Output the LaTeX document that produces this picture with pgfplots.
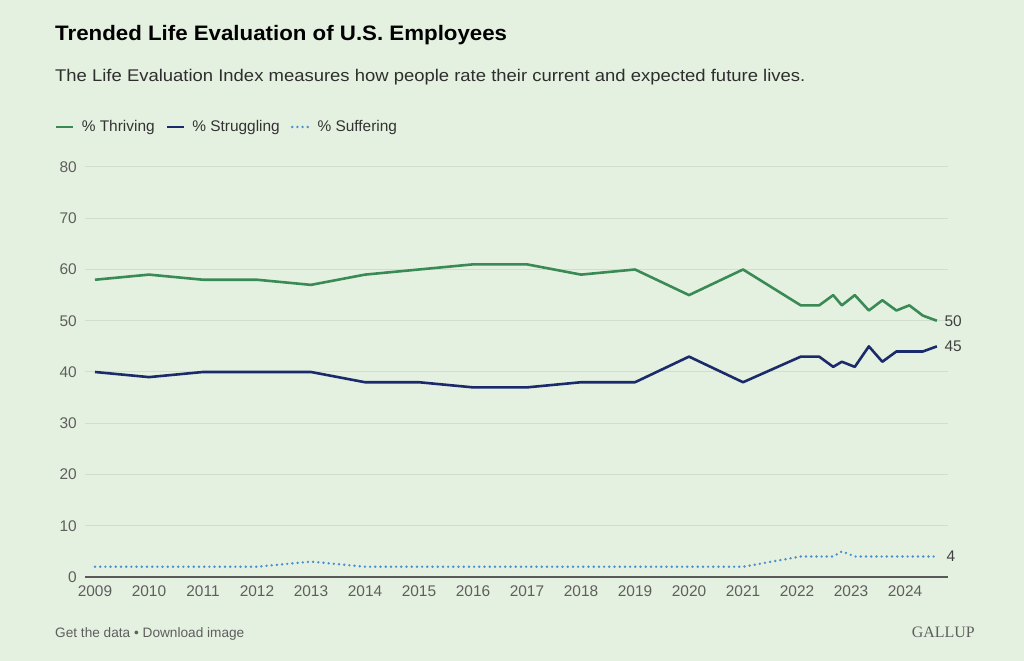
\documentclass[border=0pt]{standalone}
\usepackage{fontspec}
\setmainfont{Liberation Sans}
\newfontfamily\titlefont[FakeStretch=1.065]{Liberation Sans}
\newfontfamily\subfont[FakeStretch=1.09]{Liberation Sans}
\newfontfamily\gallupfont{Liberation Serif}
\usepackage{pgfplots}
\usepackage{pgfplotstable}
\pgfplotsset{compat=1.18}
\definecolor{bg}{HTML}{E5F1E0}
\definecolor{thr}{HTML}{3A8A55}
\definecolor{str}{HTML}{1B2A6B}
\definecolor{suf}{HTML}{4A8FD0}
\definecolor{gridc}{HTML}{D3DDCF}
\definecolor{txt}{HTML}{5E5E5E}

\pgfplotstableread{
x y
2009 58
2010 59
2011 58
2012 58
2013 57
2014 59
2015 60
2016 61
2017 61
2018 59
2019 60
2020 55
2021 60
2022.07 53
2022.41 53
2022.67 55
2022.83 53
2023.07 55
2023.33 52
2023.58 54
2023.84 52
2024.08 53
2024.33 51
2024.59 50
}\thriving

\pgfplotstableread{
x y
2009 40
2010 39
2011 40
2012 40
2013 40
2014 38
2015 38
2016 37
2017 37
2018 38
2019 38
2020 43
2021 38
2022.07 43
2022.41 43
2022.67 41
2022.83 42
2023.07 41
2023.33 45
2023.58 42
2023.84 44
2024.08 44
2024.33 44
2024.59 45
}\struggling

\pgfplotstableread{
x y
2009 2
2010 2
2011 2
2012 2
2013 3
2014 2
2015 2
2016 2
2017 2
2018 2
2019 2
2020 2
2021 2
2022.07 4
2022.41 4
2022.67 4
2022.83 5
2023.07 4
2023.33 4
2023.58 4
2023.84 4
2024.08 4
2024.33 4
2024.59 4
}\suffering

\begin{document}
\begin{tikzpicture}[x=1bp,y=1bp]
\fill[bg] (0,0) rectangle (1024,661);
\node[anchor=base west, inner sep=0, text=black, font=\titlefont\bfseries\fontsize{21}{24}\selectfont] at (55,620) {Trended Life Evaluation of U.S. Employees};
\node[anchor=base west, inner sep=0, text=black!82, font=\subfont\fontsize{17}{20}\selectfont] at (55,579) {The Life Evaluation Index measures how people rate their current and expected future lives.};
\node[anchor=base west, inner sep=0, text=txt, font=\fontsize{13.7}{16}\selectfont] at (55,23) {Get the data \textbullet\ Download image};
\node[anchor=base east, inner sep=0, text=txt, font=\gallupfont\fontsize{16}{18}\selectfont] at (975,23) {GALLUP};
\begin{axis}[
  at={(85bp,84bp)}, anchor=south west,
  scale only axis, width=863bp, height=410bp,
  xmin=2008.815, xmax=2024.796, ymin=0, ymax=80,
  axis x line=bottom, axis y line=left,
  axis line style={-},
  x axis line style={draw=black!65, line width=1.3bp},
  y axis line style={draw=none},
  xtick={2009,2010,...,2024},
  ytick={0,10,...,80},
  major tick length=0pt,
  ymajorgrids, grid style={draw=gridc, line width=1bp},
  /pgf/number format/assume math mode=true,
  xticklabel style={/pgf/number format/1000 sep={}, anchor=north, inner sep=0pt, yshift=-9bp},
  yticklabel style={anchor=east, inner sep=0pt, xshift=-8bp},
  tick label style={text=txt, font=\fontsize{15.5}{18}\selectfont},
  clip=false,
  legend style={at={(-0.0348,1.0976)}, anchor=west, draw=none, fill=none,
    font=\fontsize{15.5}{18}\selectfont, text=black!80,
    legend columns=-1, inner sep=0pt,
    /tikz/every odd column/.append style={column sep=5bp},
    /tikz/every even column/.append style={column sep=9bp}},
  legend image code/.code={\draw[#1] (0bp,0bp) -- (17bp,0bp);},
]
\addplot[thr, line width=2.6bp, line join=round] table {\thriving}
  node[pos=1, anchor=west, xshift=3bp, text=black!75, font=\fontsize{15.5}{18}\selectfont] {50};
\addlegendentry{\% Thriving}
\addplot[str, line width=2.6bp, line join=round] table {\struggling}
  node[pos=1, anchor=west, xshift=3bp, text=black!75, font=\fontsize{15.5}{18}\selectfont] {45};
\addlegendentry{\% Struggling}
\addplot[suf, line width=2.7bp, line cap=round, dash pattern=on 0bp off 5.2bp] table {\suffering}
  node[pos=1, anchor=west, xshift=5bp, text=black!75, font=\fontsize{15.5}{18}\selectfont] {4};
\addlegendentry{\% Suffering}
\end{axis}
\end{tikzpicture}
\end{document}
